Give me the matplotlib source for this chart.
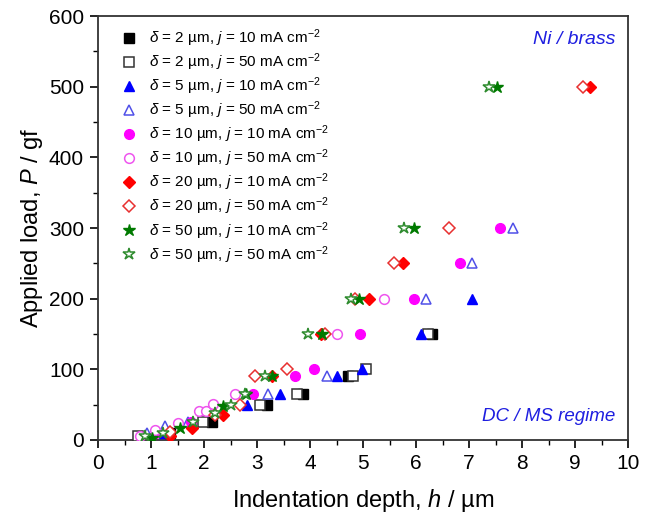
import matplotlib
matplotlib.use("Agg")
import matplotlib.pyplot as plt
from matplotlib.ticker import MultipleLocator

plt.rcParams["font.family"] = ["Liberation Sans", "DejaVu Sans"]
plt.rcParams["mathtext.fontset"] = "custom"
plt.rcParams["mathtext.rm"] = "Liberation Sans"
plt.rcParams["mathtext.it"] = "Liberation Sans:italic"

# ── Data: indentation depth h (µm) and applied load P (gf) per series ─────────
h_d2_j10 = [1.35, 2.15, 3.18, 3.87, 4.72, 6.30]
P_d2_j10 = [10, 25, 50, 65, 90, 150]
h_d2_j50 = [0.75, 1.30, 1.98, 3.06, 3.75, 4.80, 5.05, 6.23]
P_d2_j50 = [5, 10, 25, 50, 65, 90, 100, 150]

h_d5_j10 = [1.25, 1.75, 2.81, 3.43, 4.50, 4.98, 6.09, 7.06]
P_d5_j10 = [10, 25, 50, 65, 90, 100, 150, 200]
h_d5_j50 = [0.93, 1.26, 1.70, 3.21, 4.32, 6.19, 7.06, 7.83]
P_d5_j50 = [10, 20, 25, 65, 90, 200, 250, 300]

h_d10_j10 = [1.10, 1.75, 2.92, 3.72, 4.08, 4.94, 5.96, 6.83, 7.58]
P_d10_j10 = [10, 25, 65, 90, 100, 150, 200, 250, 300]
h_d10_j50 = [0.80, 1.08, 1.51, 1.91, 2.04, 2.17, 2.58, 4.50, 5.40]
P_d10_j50 = [5, 14, 24, 41, 41, 51, 65, 150, 200]

h_d20_j10 = [1.36, 1.77, 2.36, 3.28, 4.20, 5.11, 5.75, 9.28]
P_d20_j10 = [5, 17, 35, 90, 150, 200, 250, 500]
h_d20_j50 = [1.36, 2.20, 2.68, 2.96, 3.57, 4.28, 4.85, 5.58, 6.62, 9.15]
P_d20_j50 = [11, 35, 50, 90, 100, 150, 200, 250, 300, 500]

h_d50_j10 = [1.02, 1.55, 2.36, 2.80, 3.28, 4.22, 4.92, 5.96, 7.53]
P_d50_j10 = [3, 17, 48, 65, 90, 150, 200, 300, 500]
h_d50_j50 = [0.89, 1.23, 1.80, 2.21, 2.50, 2.77, 3.15, 3.96, 4.77, 5.77, 7.38]
P_d50_j50 = [5, 10, 25, 38, 50, 65, 90, 150, 200, 300, 500]

# ── Styles ────────────────────────────────────────────────────────────────────
series = [
    (h_d2_j10, P_d2_j10, 2, 10, "s", "black", True, 6.5),
    (h_d2_j50, P_d2_j50, 2, 50, "s", "#333333", False, 6.5),
    (h_d5_j10, P_d5_j10, 5, 10, "^", "#0000ff", True, 7.5),
    (h_d5_j50, P_d5_j50, 5, 50, "^", "#5050e8", False, 7.5),
    (h_d10_j10, P_d10_j10, 10, 10, "o", "#ff00ff", True, 7),
    (h_d10_j50, P_d10_j50, 10, 50, "o", "#ee55ee", False, 7),
    (h_d20_j10, P_d20_j10, 20, 10, "D", "#ff0000", True, 6.5),
    (h_d20_j50, P_d20_j50, 20, 50, "D", "#e83030", False, 6.5),
    (h_d50_j10, P_d50_j10, 50, 10, "*", "#007a00", True, 9),
    (h_d50_j50, P_d50_j50, 50, 50, "*", "#2e8b2e", False, 9),
]

fig = plt.figure(figsize=(6.49, 5.20), dpi=100)
ax = fig.add_axes([0.151, 0.154, 0.817, 0.815])

for h, P, d, j, m, c, filled, ms in series:
    label = rf"$\delta$ = {d} µm, $j$ = {j} mA cm$^{{-2}}$"
    ax.plot(h, P, linestyle="none", marker=m, ms=ms,
            markerfacecolor=c if filled else "white",
            markeredgecolor=c, markeredgewidth=1.0 if filled else 1.1,
            label=label, zorder=3)

ax.set_xlim(0, 10)
ax.set_ylim(0, 600)
ax.xaxis.set_major_locator(MultipleLocator(1))
ax.xaxis.set_minor_locator(MultipleLocator(0.5))
ax.yaxis.set_major_locator(MultipleLocator(100))
ax.yaxis.set_minor_locator(MultipleLocator(50))
ax.tick_params(which="major", direction="out", length=6, width=1.2,
               labelsize=15, pad=4)
ax.tick_params(which="minor", direction="out", length=3.5, width=1.0)
for s in ax.spines.values():
    s.set_linewidth(1.3)
    s.set_color("#333333")

ax.set_xlabel(r"Indentation depth, $h$ / µm", fontsize=17, labelpad=10)
ax.set_ylabel(r"Applied load, $P$ / gf", fontsize=17, labelpad=3)

leg = ax.legend(loc="upper left", bbox_to_anchor=(0.02, 1.0), frameon=False,
                fontsize=11, labelspacing=0.16, handletextpad=0.7,
                handlelength=1.2, borderaxespad=0.35)

ax.text(0.975, 0.965, "Ni / brass", transform=ax.transAxes, ha="right",
        va="top", fontsize=14, style="italic", color="#1e1ee0")
ax.text(0.975, 0.035, "DC / MS regime", transform=ax.transAxes, ha="right",
        va="bottom", fontsize=13.5, style="italic", color="#1e1ee0")

fig.savefig("out.png", dpi=100, facecolor="white")
